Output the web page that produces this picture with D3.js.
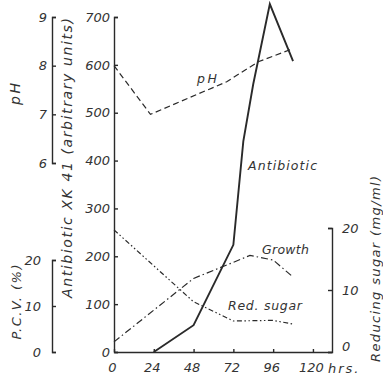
<!DOCTYPE html>
<html>
<head>
<meta charset="utf-8">
<script src="https://cdn.jsdelivr.net/npm/d3@7"></script>
<style>
  body { margin: 0; background: #fff; }
  svg text { font-family: "DejaVu Sans", sans-serif; font-style: italic; fill: #333; }
  .axis path, .axis line { stroke: #2a2a2a; stroke-width: 1.4; }
  .axis text { font-size: 13px; fill: #333; font-family: "DejaVu Sans", sans-serif; font-style: italic; }
</style>
</head>
<body>
<div id="chart"></div>
<script>
const width = 383
const height = 375

// data
const xTicks = [0, 24, 48, 72, 96, 120]
const antibioticTicks = [0, 100, 200, 300, 400, 500, 600, 700]
const phTicks = [6, 7, 8, 9]
const pcvTicks = [0, 10, 20]
const sugarTicks = [0, 10, 20]

const antibioticHours = [24, 48, 72, 78, 84, 94, 108]
const antibioticValues = [0, 56, 224, 440, 560, 727, 608]

const phHours = [0, 22, 68, 87, 108]
const phValues = [8.0, 7.0, 7.67, 8.08, 8.35]

const growthHours = [0, 48, 70, 82, 96, 108]
const growthValues = [2.2, 16, 19.2, 21, 20, 16.3]

const sugarHours = [0, 48, 72, 96, 108]
const sugarValues = [19.7, 8.1, 5.0, 5.1, 4.5]

const svg = d3.select("div#chart").append("svg").attr("width", width).attr("height", height)

const x = d3.scaleLinear().domain([0, 131.5]).range([114, 332])
const yAnti = d3.scaleLinear().domain([0, 700]).range([352, 17])
const yPh = d3.scaleLinear().domain([6, 9]).range([163, 17])
const yPcv = d3.scaleLinear().domain([0, 20]).range([352, 260])
const ySugar = d3.scaleLinear().domain([0, 20]).range([352, 228])

const fmt = d3.format("d")

// axes
const xAxisGroup = svg.append("g").attr("class", "axis")
    .attr("transform", `translate(0, ${352})`)
    .call(d3.axisBottom(x).tickValues(xTicks).tickFormat(fmt).tickSizeInner(-3).tickSizeOuter(0).tickPadding(11))
xAxisGroup.selectAll("text").attr("dx", "-2")

svg.append("g").attr("class", "axis")
    .attr("transform", `translate(${x(0)}, 0)`)
    .call(d3.axisLeft(yAnti).tickValues(antibioticTicks).tickFormat(fmt).tickSizeInner(-4).tickSizeOuter(-4).tickPadding(4))

svg.append("g").attr("class", "axis")
    .attr("transform", `translate(52, 0)`)
    .call(d3.axisLeft(yPh).tickValues(phTicks).tickFormat(fmt).tickSizeInner(-4).tickSizeOuter(-4).tickPadding(5))

svg.append("g").attr("class", "axis")
    .attr("transform", `translate(52, 0)`)
    .call(d3.axisLeft(yPcv).tickValues(pcvTicks).tickFormat(fmt).tickSizeInner(-4).tickSizeOuter(-4).tickPadding(11))

const sugarAxis = svg.append("g").attr("class", "axis")
    .attr("transform", `translate(${x(131.5)}, 0)`)
    .call(d3.axisRight(ySugar).tickValues(sugarTicks).tickFormat(fmt).tickSizeInner(-4).tickSizeOuter(-4).tickPadding(10))
sugarAxis.selectAll(".tick text").filter(d => d === 0).attr("dy", "-0.1em")

svg.append("text").attr("x", 328).attr("y", 373)
    .style("font-size", "13px").style("letter-spacing", "2px")
    .text("hrs.")

// axis titles
const vTitle = (tx, ty, len, size, label) => svg.append("text")
    .attr("transform", `translate(${tx}, ${ty}) rotate(-90)`)
    .attr("text-anchor", "middle")
    .attr("textLength", len).attr("lengthAdjust", "spacing")
    .style("font-size", size + "px")
    .text(label)

vTitle(20, 94, 22, 14, "pH")
vTitle(72, 158, 280, 14, "Antibiotic XK 41 (arbitrary units)")
vTitle(21, 302, 75, 13, "P.C.V. (%)")
vTitle(380, 269, 186, 13, "Reducing sugar (mg/ml)")

// series
const drawLine = (hours, values, yScale, width, dash) => {
    const line = d3.line().x((d, i) => x(hours[i])).y(d => yScale(d))
    svg.append("path")
        .datum(values)
        .attr("d", line)
        .attr("fill", "none")
        .attr("stroke", "#2a2a2a")
        .attr("stroke-width", width)
        .attr("stroke-dasharray", dash)
}

drawLine(phHours, phValues, yPh, 1.2, "6,3.5")
drawLine(growthHours, growthValues, yPcv, 1.2, "7,3,1.5,3")
drawLine(sugarHours, sugarValues, ySugar, 1.2, "5,2.5,1.5,2.5,1.5,2.5")
drawLine(antibioticHours, antibioticValues, yAnti, 1.9, null)

// curve labels
const label = (tx, ty, len, text) => svg.append("text")
    .attr("x", tx).attr("y", ty)
    .attr("textLength", len).attr("lengthAdjust", "spacing")
    .style("font-size", "12.5px")
    .text(text)

label(197, 83, 20, "pH")
label(248, 170, 69, "Antibiotic")
label(262, 254, 47, "Growth")
label(228, 310, 74, "Red. sugar")
</script>
</body>
</html>
